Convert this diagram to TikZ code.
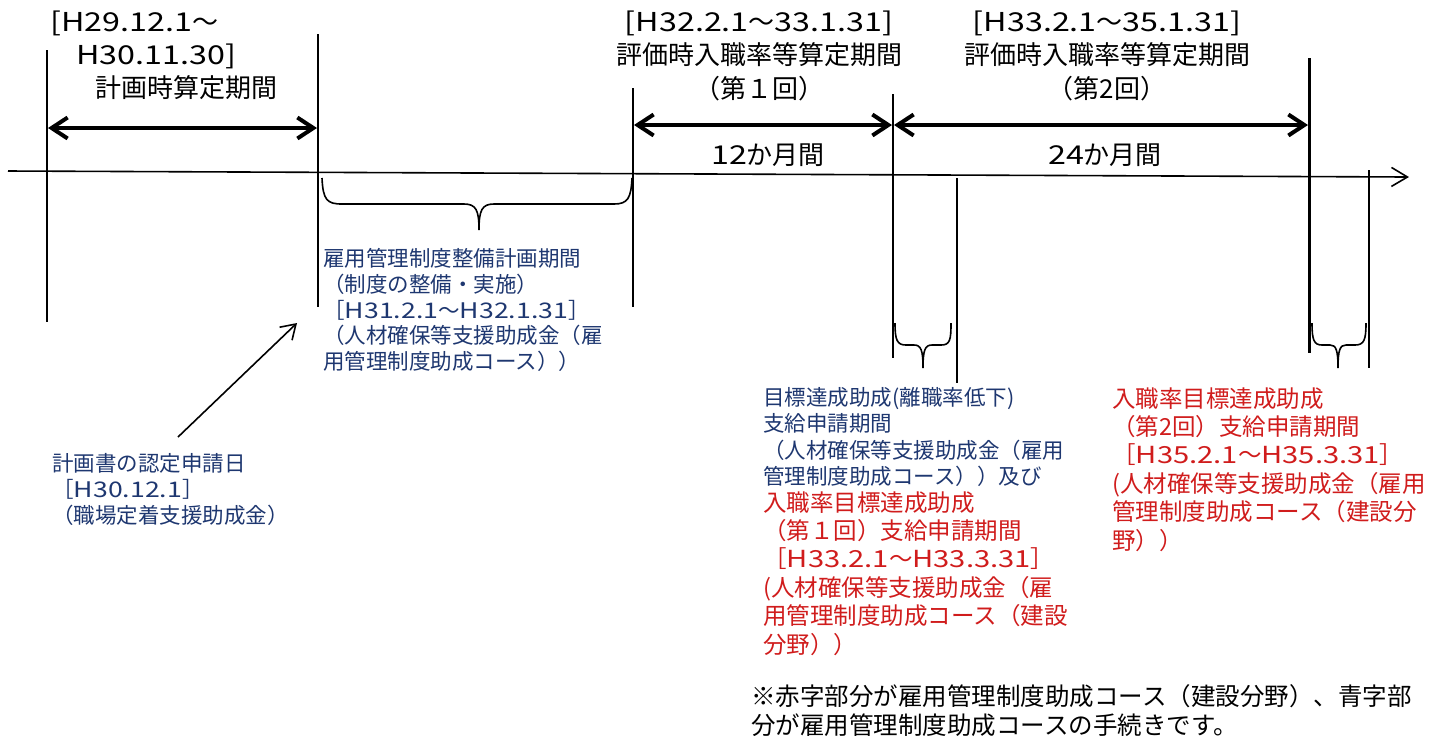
\documentclass[tikz,border=0pt]{standalone}
\usepackage{fontspec}
\setmainfont{Noto Sans CJK JP}
\newfontfamily\widelat[FakeStretch=1.24]{Noto Sans CJK JP}
\newcommand{\wl}[1]{{\widelat #1}}
\usetikzlibrary{arrows.meta}
\definecolor{navy}{RGB}{30,55,112}
\definecolor{redtxt}{RGB}{208,28,28}
\begin{document}
\begin{tikzpicture}[x=0.5pt,y=-0.5pt,
  tick/.style={line width=1pt},
  thicktick/.style={line width=1.5pt},
  span/.style={line width=2pt,{Straight Barb[length=8pt,width=10.5pt]}-{Straight Barb[length=8pt,width=10.5pt]}},
  axisline/.style={line width=0.8pt,-{Straight Barb[length=8pt,width=9.5pt]}},
  pointer/.style={line width=0.8pt,-{Straight Barb[length=7pt,width=9pt]}},
  brace/.style={line width=0.8pt},
  toptxt/.style={inner sep=0pt,font=\fontsize{13pt}{16.5pt}\selectfont},
  bluetxt/.style={inner sep=0pt,align=left,text=navy,font=\fontsize{10.75pt}{12.9pt}\selectfont},
  redtxtst/.style={inner sep=0pt,align=left,text=redtxt,font=\fontsize{11.75pt}{14.2pt}\selectfont},
  notetxt/.style={inner sep=0pt,align=left,font=\fontsize{12.25pt}{14.4pt}\selectfont},
]
\useasboundingbox (0,0) rectangle (1446,736);
\clip (0,0) rectangle (1446,736);

% main axis
\coordinate (ax0) at (8,171);
\coordinate (ax1) at (1409,177);
\draw[axisline] (ax0) -- (ax1);

% vertical ticks
\coordinate (t1a) at (47,50);   \coordinate (t1b) at (47,322);
\coordinate (t2a) at (318,34);  \coordinate (t2b) at (318,307);
\coordinate (t3a) at (633,88);  \coordinate (t3b) at (633,307);
\coordinate (t4a) at (893,94);  \coordinate (t4b) at (893,358);
\coordinate (t5a) at (957,178); \coordinate (t5b) at (957,383);
\coordinate (t6a) at (1309,58); \coordinate (t6b) at (1309,353);
\coordinate (t7a) at (1369,170);\coordinate (t7b) at (1369,368);
\draw[tick] (t1a) -- (t1b);
\draw[tick] (t2a) -- (t2b);
\draw[tick] (t3a) -- (t3b);
\draw[tick] (t4a) -- (t4b);
\draw[tick] (t5a) -- (t5b);
\draw[thicktick] (t6a) -- (t6b);
\draw[tick] (t7a) -- (t7b);

% period arrows
\coordinate (p1a) at (48,128);  \coordinate (p1b) at (317,128);
\coordinate (p2a) at (634,125); \coordinate (p2b) at (892,125);
\coordinate (p3a) at (894,125); \coordinate (p3b) at (1308,125);
\draw[span] (p1a) -- (p1b);
\draw[span] (p2a) -- (p2b);
\draw[span] (p3a) -- (p3b);

% braces
\draw[brace] (322,178) .. controls (323,200) and (327,204) .. (342,204) -- (464,204)
  .. controls (476,204) and (479,210) .. (479,230)
  .. controls (479,210) and (482,204) .. (494,204) -- (614,204)
  .. controls (628,204) and (631,198) .. (632,178);
\draw[brace] (895,323) .. controls (895,340) and (897,345) .. (906,345) -- (914,345)
  .. controls (921,345) and (923,350) .. (923,368)
  .. controls (923,350) and (925,345) .. (932,345) -- (941,345)
  .. controls (950,345) and (951,340) .. (951,323);
\draw[brace] (1312,323) .. controls (1312,340) and (1314,345) .. (1322,345) -- (1330,345)
  .. controls (1336,345) and (1338,350) .. (1338,368)
  .. controls (1338,350) and (1340,345) .. (1346,345) -- (1355,345)
  .. controls (1364,345) and (1366,340) .. (1366,323);

% top labels
\node[toptxt,anchor=north west,align=left] (lblA) at (50,10)
  {\wl{[H29.12.1}～\\\hspace*{13pt}\wl{H30.11.30]}\\\hspace*{22.5pt}計画時算定期間};
\node[toptxt,anchor=north,align=center,font=\fontsize{13pt}{16.75pt}\selectfont] (lblB) at (759,10)
  {\wl{[H32.2.1}～\wl{33.1.31]}\\評価時入職率等算定期間\\（第１回）};
\node[toptxt,anchor=north,align=center,font=\fontsize{13pt}{16.75pt}\selectfont] (lblC) at (1107,10)
  {\wl{[H33.2.1}～\wl{35.1.31]}\\評価時入職率等算定期間\\（第2回）};
\node[toptxt,anchor=center] (m12) at (768,155) {\wl{12}か月間};
\node[toptxt,anchor=center] (m24) at (1105,155) {\wl{24}か月間};

% blue text under big brace
\node[bluetxt,anchor=north west] (lblD) at (323,248)
  {雇用管理制度整備計画期間\\（制度の整備・実施）\\［\wl{H31.2.1}～\wl{H32.1.31}］\\（人材確保等支援助成金（雇\\用管理制度助成コース））};

% application date
\node[bluetxt,anchor=north west] (lblE) at (52,453)
  {計画書の認定申請日\\［\wl{H30.12.1}］\\（職場定着支援助成金）};
\coordinate (arA) at (178,437);
\coordinate (arB) at (297,323);
\draw[pointer] (arA) -- (arB);

% first payment period text
\node[bluetxt,anchor=north west,font=\fontsize{10.75pt}{13.25pt}\selectfont] (lblF1) at (763,387)
  {目標達成助成(離職率低下)\\支給申請期間\\（人材確保等支援助成金（雇用\\管理制度助成コース））及び};
\node[redtxtst,anchor=north west] (lblF2) at (763,491)
  {入職率目標達成助成\\（第１回）支給申請期間\\［\wl{H33.2.1}～\wl{H33.3.31}］\\(人材確保等支援助成金（雇\\用管理制度助成コース（建設\\分野））};

% second payment period text
\node[redtxtst,anchor=north west] (lblG) at (1112,387)
  {入職率目標達成助成\\（第2回）支給申請期間\\［\wl{H35.2.1}～\wl{H35.3.31}］\\(人材確保等支援助成金（雇用\\管理制度助成コース（建設分\\野））};

% note
\node[notetxt,anchor=north west] (note) at (751,684)
  {※赤字部分が雇用管理制度助成コース（建設分野）、青字部\\分が雇用管理制度助成コースの手続きです。};
\end{tikzpicture}
\end{document}
